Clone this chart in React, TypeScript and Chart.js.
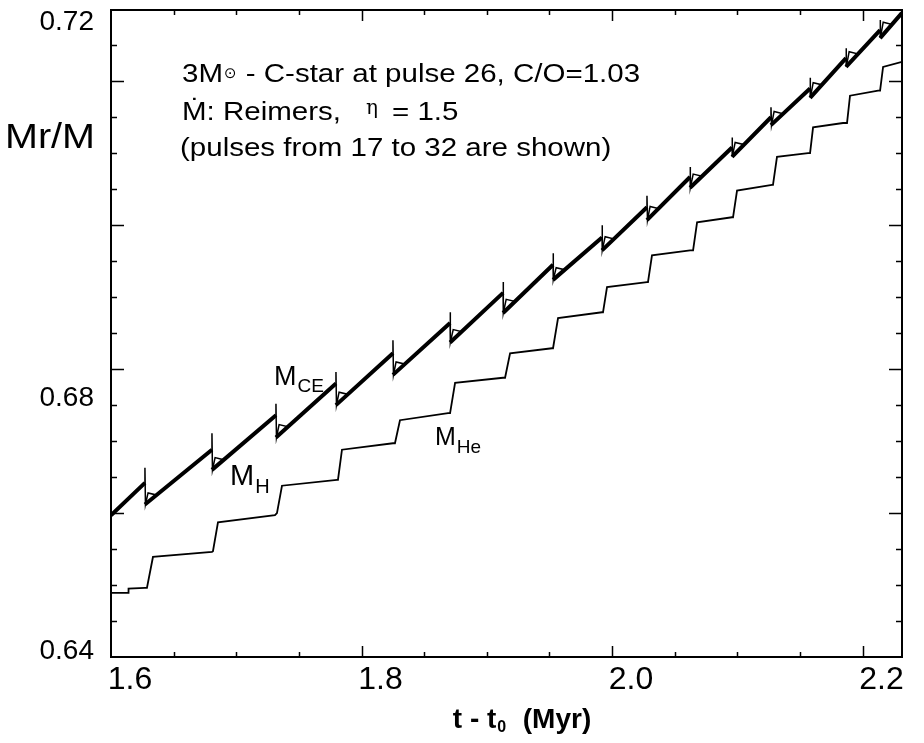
import { useEffect, useRef } from "react";
import { Chart, registerables } from "chart.js";

Chart.register(...registerables);

// ---- data (time in Myr, mass fraction Mr/M) ----
// thermal pulses 17..32
const PULSE_T = [1.6271, 1.6806, 1.7317, 1.7796, 1.8251, 1.8707, 1.913, 1.9529, 1.992, 2.0279, 2.0623, 2.0958, 2.1269, 2.1581, 2.1868, 2.214];
// base of convective envelope just before each pulse and right after the dredge-up drop
const MCE_PRE = [0.6642, 0.6688, 0.6736, 0.678, 0.6822, 0.6864, 0.6906, 0.6945, 0.6983, 0.7025, 0.7067, 0.7108, 0.715, 0.719, 0.7232, 0.7271];
const MCE_DROP = [0.6612, 0.666, 0.6705, 0.675, 0.6792, 0.6837, 0.6878, 0.6924, 0.6965, 0.7007, 0.7052, 0.7095, 0.7139, 0.7177, 0.722, 0.726];
// H-shell: peak at the pulse, small bump after the drop, re-join with the envelope base
const MH_PEAK = [0.6663, 0.6711, 0.6752, 0.6796, 0.684, 0.6879, 0.6921, 0.6961, 0.7, 0.7041, 0.7081, 0.7122, 0.7164, 0.7205, 0.7246, 0.7285];
const MH_BUMP = [0.6628, 0.6677, 0.6723, 0.6768, 0.681, 0.6855, 0.6897, 0.6941, 0.6984, 0.7026, 0.7071, 0.7115, 0.7158, 0.7198, 0.7241, 0.7282];
const MH_JOIN = [0.6625, 0.6674, 0.672, 0.6765, 0.6807, 0.6852, 0.6894, 0.6938, 0.6981, 0.7023, 0.7068, 0.7112, 0.7155, 0.7195, 0.7238, 0.7279];
const HOOK_DROP_DT = 0.0004;
const HOOK_BUMP_DT = 0.0025;
const HOOK_JOIN_DT = 0.0095;
const T_START = 1.6;
const T_END = 2.2315;
const MCE_START = 0.6597;
const MCE_END = 0.7295;
// He core mass trace
const HE_T = [1.6, 1.6136, 1.614, 1.6271, 1.6287, 1.6335, 1.6806, 1.6814, 1.6854, 1.7309, 1.7325, 1.7365, 1.7804, 1.7812, 1.7844, 1.8251, 1.8267, 1.8307, 1.8691, 1.8707, 1.8747, 1.913, 1.9146, 1.9186, 1.9521, 1.9529, 1.9569, 1.992, 1.9928, 1.996, 2.0279, 2.0287, 2.0319, 2.0623, 2.0647, 2.0679, 2.0958, 2.0966, 2.0998, 2.1277, 2.1285, 2.1317, 2.1565, 2.1581, 2.1605, 2.1844, 2.1876, 2.19, 2.2124, 2.214, 2.2164, 2.2315];
const HE_M = [0.6489, 0.6489, 0.6495, 0.6496, 0.6496, 0.6539, 0.6546, 0.6547, 0.6587, 0.6597, 0.66, 0.6638, 0.6646, 0.6646, 0.6688, 0.6697, 0.6697, 0.6729, 0.6739, 0.6739, 0.6781, 0.6788, 0.6788, 0.6822, 0.6829, 0.6829, 0.6871, 0.6879, 0.6879, 0.6914, 0.6921, 0.6921, 0.6958, 0.6965, 0.6965, 0.7004, 0.7011, 0.7011, 0.7048, 0.7056, 0.7056, 0.7095, 0.71, 0.71, 0.7136, 0.7142, 0.7142, 0.718, 0.7187, 0.7187, 0.722, 0.7227];

// ---- axes ----
const X_MIN = 1.6;
const X_MAX = 2.2315;
const Y_MIN = 0.64;
const Y_MAX = 0.7299;
const X_MINOR = 0.05;
const X_MAJOR = 0.2;
const Y_MINOR = 0.005;
const Y_MAJOR = 0.02;
const X_TICK_VALUES = [1.6, 1.8, 2.0, 2.2];
const X_TICK_LABELS = ["1.6", "1.8", "2.0", "2.2"];
const Y_TICK_LABELS = ["0.64", "0.68", "0.72"];
const Y_LABEL_AT = [0.6408, 0.676, 0.7282];

const FONT = '"Liberation Sans", Arial, Helvetica, sans-serif';

function isMultiple(v: number, step: number) {
  const r = v / step;
  return Math.abs(r - Math.round(r)) < 1e-6;
}

function noPadding(s: any) {
  s.paddingTop = 0;
  s.paddingBottom = 0;
  s.paddingLeft = 0;
  s.paddingRight = 0;
}

const framePlugin = {
  id: "frameTicks",
  afterDraw(chart: any) {
    const { ctx, chartArea: a, scales } = chart;
    const xs = scales.x;
    const ys = scales.y;
    ctx.save();
    ctx.strokeStyle = "#000";
    ctx.lineWidth = 1.5;
    ctx.beginPath();
    for (let k = 1; ; k++) {
      const v = X_MIN + k * X_MINOR;
      if (v > X_MAX - 1e-6) break;
      const px = Math.round(xs.getPixelForValue(v)) + 0.5;
      const len = isMultiple(v, X_MAJOR) ? 11 : 5;
      ctx.moveTo(px, a.bottom);
      ctx.lineTo(px, a.bottom - len);
      ctx.moveTo(px, a.top);
      ctx.lineTo(px, a.top + len);
    }
    for (let k = 1; ; k++) {
      const v = Y_MIN + k * Y_MINOR;
      if (v > Y_MAX - 1e-6) break;
      const py = Math.round(ys.getPixelForValue(v)) + 0.5;
      const len = isMultiple(v, Y_MAJOR) ? 13 : 6;
      ctx.moveTo(a.left, py);
      ctx.lineTo(a.left + len, py);
      ctx.moveTo(a.right, py);
      ctx.lineTo(a.right - len, py);
    }
    ctx.stroke();
    ctx.lineWidth = 2;
    ctx.strokeRect(a.left, a.top, a.right - a.left, a.bottom - a.top);

    // ---- texts ----
    ctx.fillStyle = "#000";
    ctx.textAlign = "left";
    ctx.textBaseline = "alphabetic";
    const put = (s: string, x: number, y: number, size: number, sx = 1, weight = "normal", family = FONT) => {
      ctx.save();
      ctx.translate(x, y);
      ctx.scale(sx, 1);
      ctx.font = `${weight} ${size}px ${family}`;
      ctx.fillText(s, 0, 0);
      const w = ctx.measureText(s).width * sx;
      ctx.restore();
      return w;
    };
    const SX = 1.18;
    // annotation block
    let x = 182;
    x += put("3M", x, 82, 25, SX);
    x += put("\u2299", x + 1, 78, 15, 1, "normal", '"DejaVu Sans", sans-serif') + 2;
    put(" - C-star at pulse 26, C/O=1.03", x, 82, 25, SX);
    put("\u1E40: Reimers,", 182, 120, 25, SX);
    put("\u03B7", 366, 114, 20, 1, "normal", '"DejaVu Serif", serif');
    put("= 1.5", 392, 120, 25, SX);
    put("(pulses from 17 to 32 are shown)", 180, 156, 25, SX);
    // y title
    put("Mr/M", 5, 148, 35, 1.13);
    // curve labels
    let m = put("M", 274, 385, 27);
    put("CE", 274 + m + 1, 392, 19);
    m = put("M", 230, 485, 29);
    put("H", 230 + m + 1, 493, 20);
    m = put("M", 435, 445, 25);
    put("He", 435 + m + 1, 453, 19);
    // x title
    ctx.font = `bold 28px ${FONT}`;
    const w1 = ctx.measureText("t - t").width;
    ctx.font = `bold 16px ${FONT}`;
    const w2 = ctx.measureText("0").width;
    ctx.font = `bold 28px ${FONT}`;
    const w3 = ctx.measureText("  (Myr)").width;
    let tx = 522 - (w1 + w2 + w3 + 2) / 2;
    tx += put("t - t", tx, 728, 28, 1, "bold") + 1;
    tx += put("0", tx, 732, 16, 1, "bold") + 1;
    put("  (Myr)", tx, 728, 28, 1, "bold");
    ctx.restore();
  },
};

export default function App() {
  const ref = useRef<HTMLCanvasElement>(null);
  useEffect(() => {
    const canvas = ref.current;
    if (!canvas) return;

    const mce: any[] = [{ x: T_START, y: MCE_START }];
    const mh: any[] = [{ x: T_START, y: MCE_START }];
    PULSE_T.forEach((t, i) => {
      mce.push({ x: t, y: MCE_PRE[i] });
      mce.push({ x: t, y: null });
      mce.push({ x: t, y: MCE_DROP[i] });
      mh.push({ x: t, y: MCE_PRE[i] });
      mh.push({ x: t, y: MH_PEAK[i] });
      mh.push({ x: t + HOOK_DROP_DT, y: MCE_DROP[i] });
      mh.push({ x: t + HOOK_BUMP_DT, y: MH_BUMP[i] });
      mh.push({ x: t + HOOK_JOIN_DT, y: MH_JOIN[i] });
    });
    mce.push({ x: T_END, y: MCE_END });
    mh.push({ x: T_END, y: MCE_END });
    const he = HE_T.map((t, i) => ({ x: t, y: HE_M[i] }));

    const chart = new Chart(canvas, {
      type: "scatter",
      data: {
        datasets: [
          { label: "M_He", data: he, showLine: true, borderColor: "#000", borderWidth: 1.8, pointRadius: 0, tension: 0 },
          { label: "M_CE", data: mce, showLine: true, borderColor: "#000", borderWidth: 4, pointRadius: 0, spanGaps: false, tension: 0 },
          { label: "M_H", data: mh, showLine: true, borderColor: "#000", borderWidth: 1.5, pointRadius: 0, tension: 0 },
        ],
      } as any,
      options: {
        responsive: false,
        animation: false,
        layout: { padding: { left: 0, right: 22, top: 10, bottom: 0 } },
        plugins: { legend: { display: false }, tooltip: { enabled: false } },
        scales: {
          x: {
            type: "linear",
            min: X_MIN,
            max: X_MAX,
            grid: { display: false, drawTicks: false },
            border: { display: false },
            afterBuildTicks: (s: any) => {
              s.ticks = X_TICK_VALUES.map((v) => ({ value: v }));
            },
            afterFit: (s: any) => {
              s.height = 86;
              noPadding(s);
            },
            ticks: {
              autoSkip: false,
              maxRotation: 0,
              labelOffset: 19,
              padding: 4,
              color: "#000",
              font: { family: FONT, size: 32 },
              callback: (_v: any, i: number) => X_TICK_LABELS[i],
            },
          },
          y: {
            type: "linear",
            min: Y_MIN,
            max: Y_MAX,
            grid: { display: false, drawTicks: false },
            border: { display: false },
            afterBuildTicks: (s: any) => {
              s.ticks = Y_LABEL_AT.map((v) => ({ value: v }));
            },
            afterFit: (s: any) => {
              s.width = 111;
              noPadding(s);
            },
            ticks: {
              autoSkip: false,
              padding: 17,
              color: "#000",
              font: { family: FONT, size: 28 },
              callback: (_v: any, i: number) => Y_TICK_LABELS[i],
            },
          },
        },
      } as any,
      plugins: [framePlugin],
    });
    return () => chart.destroy();
  }, []);

  return (
    <div style={{ position: "fixed", left: 0, top: 0, width: 924, height: 743, background: "#fff" }}>
      <canvas ref={ref} width={924} height={743} style={{ width: 924, height: 743, display: "block" }} />
    </div>
  );
}
